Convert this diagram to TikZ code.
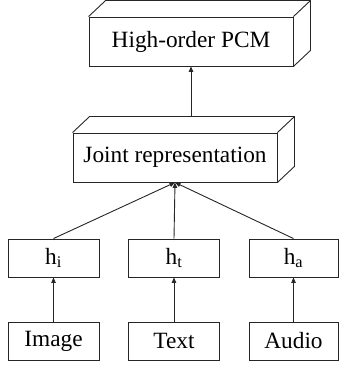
\documentclass[tikz,border=0pt]{standalone}
\usepackage{fontspec}
\setmainfont{Liberation Serif}
\usetikzlibrary{arrows.meta}
\tikzset{
  box/.style={draw=black!85, line width=0.9pt, rectangle, inner sep=0pt, font=\fontsize{23.3}{28}\selectfont},
  bigbox/.style={box, minimum width=204pt, minimum height=49pt},
  smallbox/.style={box, minimum width=91pt, minimum height=38pt},
  edge/.style={draw=black!85, line width=0.9pt},
  arr/.style={edge, -{Triangle[length=5.5pt,width=4.5pt]}}
}
\newcommand\cubeback[1]{%
  \draw[edge] (#1.north west) -- ([shift={(17,-16)}]#1.north west)
     -- ([shift={(17,-16)}]#1.north east) -- ([shift={(17,-16)}]#1.south east)
     -- (#1.south east)
     (#1.north east) -- ([shift={(17,-16)}]#1.north east);}
\begin{document}
\begin{tikzpicture}[x=1pt,y=-1pt]
\useasboundingbox (0,0) rectangle (339,366);
\node[bigbox] (pcm) at (191,41.5) {High-order PCM};
\node[bigbox] (joint) at (175,157.5) {Joint representation};
\cubeback{pcm}
\cubeback{joint}
\node[smallbox] (hi) at (53.5,258) {h\textsubscript{i}};
\node[smallbox] (ht) at (174,258) {h\textsubscript{t}};
\node[smallbox, minimum width=89pt] (ha) at (293.5,258) {h\textsubscript{a}};
\node[smallbox] (img) at (53.5,341) {Image};
\node[smallbox] (txt) at (174,341) {Text};
\node[smallbox, minimum width=89pt] (aud) at (293.5,341) {Audio};
\coordinate (jtop) at ([shift={(17,-16)}]joint.north);
\draw[arr] (pcm.south |- jtop) -- (pcm.south);
\draw[arr] (hi.north) -- (joint.south);
\draw[arr] (ht.north) -- (joint.south);
\draw[arr] (ha.north) -- (joint.south);
\draw[arr] (img.north) -- (hi.south);
\draw[arr] (txt.north) -- (ht.south);
\draw[arr] (aud.north) -- (ha.south);
\end{tikzpicture}
\end{document}
